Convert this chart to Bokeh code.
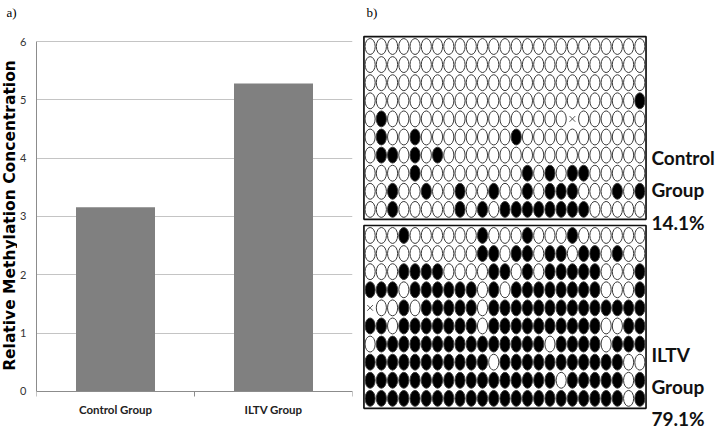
import numpy as np
from bokeh.plotting import figure
from bokeh.layouts import row
from bokeh.models import Range1d, FixedTicker
from bokeh.core.properties import value
from bokeh.embed import file_html
from bokeh.resources import INLINE

# ---------------- data ----------------
groups = ["Control Group", "ILTV Group"]
concentration = [3.16, 5.28]
y_ticks = [0, 1, 2, 3, 4, 5, 6]
y_title = "Relative Methylation Concentration"

# '1' = methylated (filled), '0' = unmethylated (open), 'x' = missing
control_rows = [
    "00000" "00000" "00000" "00000" "00000",
    "00000" "00000" "00000" "00000" "00000",
    "00000" "00000" "00000" "00000" "00000",
    "00000" "00000" "00000" "00000" "00001",
    "01000" "00000" "00000" "000x0" "00000",
    "01001" "00000" "00010" "00000" "00000",
    "01101" "01000" "00000" "00000" "00000",
    "00001" "00000" "00001" "01011" "00000",
    "00100" "10010" "01001" "01110" "00101",
    "00100" "00010" "10111" "11111" "00000",
]
iltv_rows = [
    "00010" "00000" "10001" "00010" "00000",
    "00000" "00000" "11011" "01101" "10100",
    "00011" "11000" "01101" "01111" "10001",
    "11101" "11111" "01011" "11111" "10001",
    "x0010" "11111" "01111" "11111" "11111",
    "11011" "11111" "01111" "11111" "10011",
    "01111" "11111" "11111" "10111" "10111",
    "11111" "11111" "10111" "11111" "11100",
    "11111" "11111" "11111" "11011" "11101",
    "11111" "11111" "11111" "11111" "11101",
]
control_label = ["Control", "Group", "14.1%"]
iltv_label = ["ILTV", "Group", "79.1%"]

SANS = "Lato"
H = 431
SIDE = 17

# ---------------- side strip: panel letter a) and y title ----------------
s = figure(width=SIDE, height=H, x_range=Range1d(0, SIDE), y_range=Range1d(H, 0),
           output_backend="svg", toolbar_location=None, min_border=0,
           x_axis_location=None, y_axis_location=None)
s.outline_line_color = None
s.grid.visible = False
s.text(x=[6], y=[12], text=["a)"], text_font=value("Liberation Serif"),
       text_font_size="13px", text_baseline="middle")
s.text(x=[9], y=[215], text=[y_title], angle=np.pi / 2,
       text_font=value("DejaVu Sans"), text_font_style="bold", text_font_size="15.5px",
       text_align="center", text_baseline="middle", text_color="black")

# ---------------- panel a: bar chart ----------------
p = figure(width=362 - SIDE, height=H, x_range=Range1d(0, len(groups)), y_range=Range1d(-0.686, 6.703),
           output_backend="svg", toolbar_location=None,
           min_border_left=0, min_border_right=10, min_border_top=0, min_border_bottom=0)
p.outline_line_color = None
xs = np.arange(len(groups)) + 0.5
p.vbar(x=xs, top=concentration, width=0.5, fill_color="#808080", line_color=None)

p.xgrid.visible = False
p.ygrid.grid_line_color = "#c4c4c4"
p.ygrid.grid_line_width = 1
p.ygrid.bounds = (0, 6)

p.yaxis.ticker = FixedTicker(ticks=y_ticks)
p.yaxis.bounds = (0, 6)
p.yaxis.major_tick_line_color = None
p.yaxis.minor_tick_line_color = None
p.yaxis.axis_line_color = "#8c8c8c"
p.yaxis.major_label_text_font = SANS
p.yaxis.major_label_text_font_size = "11px"
p.yaxis.major_label_text_color = "#333333"
p.yaxis.major_label_standoff = 4

p.xaxis.fixed_location = 0
p.xaxis.ticker = FixedTicker(ticks=list(xs), minor_ticks=list(range(len(groups) + 1)))
p.xaxis.major_label_overrides = {float(x): g for x, g in zip(xs, groups)}
p.xaxis.axis_line_color = "#8c8c8c"
p.xaxis.major_tick_line_color = None
p.xaxis.major_tick_out = 0
p.xaxis.major_tick_in = 0
p.xaxis.minor_tick_line_color = "#8c8c8c"
p.xaxis.minor_tick_out = 5
p.xaxis.minor_tick_in = 0
p.xaxis.major_label_text_font = SANS
p.xaxis.major_label_text_font_style = "bold"
p.xaxis.major_label_text_font_size = "11.5px"
p.xaxis.major_label_text_color = "#222222"
p.xaxis.major_label_standoff = 7

# ---------------- panel b: methylation dot matrix ----------------
q = figure(width=354, height=H, x_range=Range1d(0.322, 31.82), y_range=Range1d(22.27, -1.541),
           output_backend="svg", toolbar_location=None, min_border=0,
           x_axis_location=None, y_axis_location=None)
q.outline_line_color = None
q.grid.visible = False

iltv_offset = 10.44
blocks = [(0.0, control_rows, control_label, 7.13), (iltv_offset, iltv_rows, iltv_label, 7.55)]
ex, ey, ef, xx, xy = [], [], [], [], []
for off, rows, _, _ in blocks:
    for r, srow in enumerate(rows, start=1):
        for c, ch in enumerate(srow, start=1):
            if ch == "x":
                xx.append(c); xy.append(r + off)
            else:
                ex.append(c); ey.append(r + off)
                ef.append("black" if ch == "1" else "white")

ncol = len(control_rows[0])
for off, rows, _, _ in blocks:
    q.quad(left=0.45, right=ncol + 0.55, top=off + 0.45, bottom=off + len(rows) + 0.55,
           fill_color=None, line_color="#111111", line_width=1.7)

q.ellipse(x=ex, y=ey, width=0.9, height=0.88, fill_color=ef, line_color="#3a3a3a", line_width=1)
q.scatter(x=xx, y=xy, marker="x", size=8, line_color="#555555", line_width=1)

for off, rows, lab, start in blocks:
    q.text(x=[ncol + 1.03] * len(lab), y=[off + start + 1.79 * i for i in range(len(lab))],
           text=lab, text_font=value(SANS), text_font_style="bold",
           text_font_size="19px", text_baseline="middle", text_color="#111111")

q.text(x=[0.68], y=[-0.878], text=["b)"], text_font=value("Liberation Serif"),
       text_font_size="13px", text_baseline="middle")

layout = row(s, p, q)
open("out.html", "w").write(file_html(layout, INLINE))
